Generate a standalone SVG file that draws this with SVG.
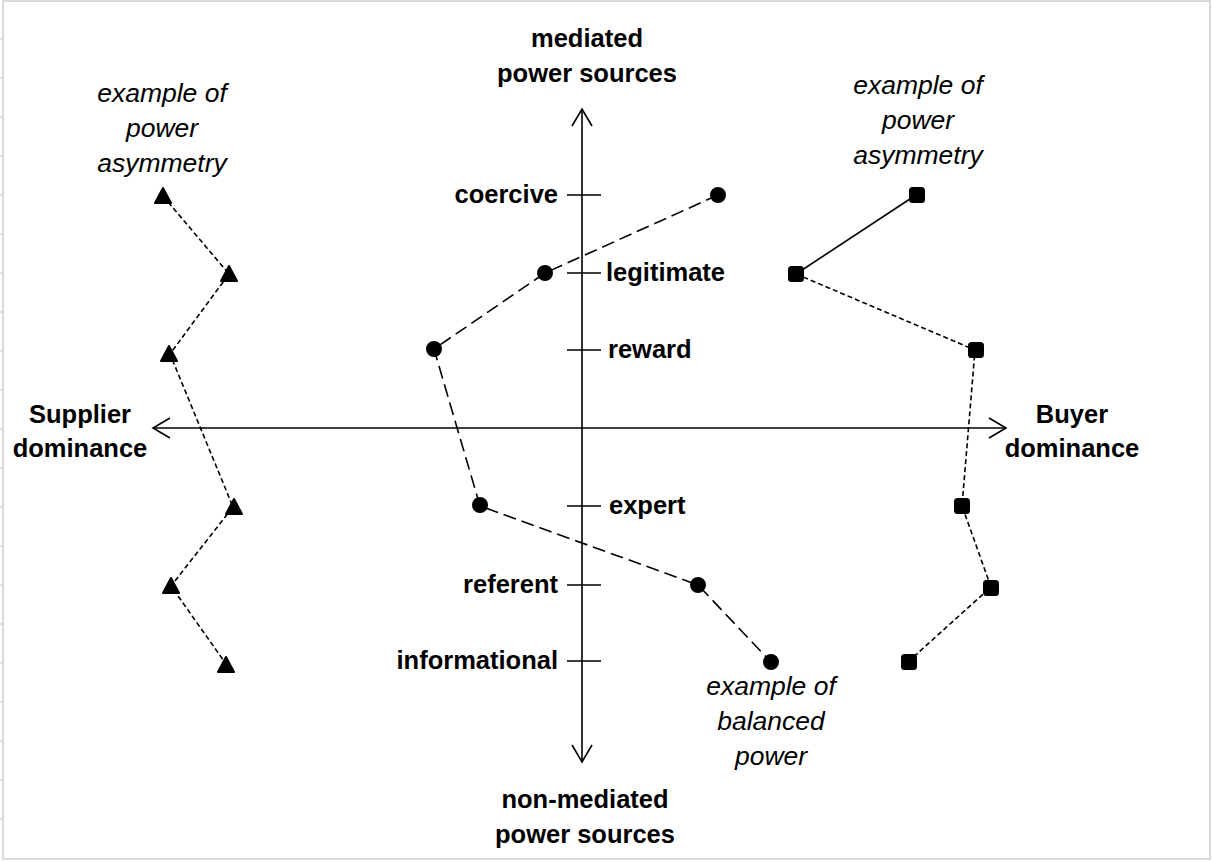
<svg xmlns="http://www.w3.org/2000/svg" width="1212" height="862" viewBox="0 0 1212 862">
<defs>
<style>
.frame{fill:none;stroke:#d9d9d9;stroke-width:2}
.gtick{stroke:#d9d9d9;stroke-width:1.5}
.axis{fill:none;stroke:#000;stroke-width:1.6}
.tick{stroke:#000;stroke-width:1.6}
.lbl{font-family:"Liberation Sans",Arial,sans-serif;font-weight:bold;font-size:25.5px;fill:#000}
.note{font-family:"Liberation Sans",Arial,sans-serif;font-style:italic;font-size:26.5px;fill:#000;text-anchor:middle}
.long{fill:none;stroke:#000;stroke-width:1.6;stroke-dasharray:13 6}
.short{fill:none;stroke:#000;stroke-width:1.6;stroke-dasharray:5 3}
.solid{fill:none;stroke:#000;stroke-width:1.6}
.mk{fill:#000;stroke:#000;stroke-width:2;stroke-linejoin:round}
</style>
<circle id="dot" r="7"/>
<rect id="sq" x="-7" y="-7" width="14" height="14" rx="2.5"/>
<path id="tri" d="M0,-8 L8,7 L-8,7 Z"/>
</defs>
<rect width="1212" height="862" fill="#fff"/>
<g id="frame">
<rect class="frame" x="3" y="1" width="1207" height="858"/>
<path class="gtick" d="M0,39h3M0,78h3M0,117h3M0,156h3M0,195h3M0,234h3M0,273h3M0,312h3M0,351h3M0,390h3M0,429h3M0,468h3M0,507h3M0,546h3M0,585h3M0,624h3M0,663h3M0,702h3M0,741h3M0,780h3M0,819h3"/>
</g>
<g id="axes">
<line class="axis" x1="582" y1="109" x2="582" y2="762"/>
<polyline class="axis" points="572,126 582,109 592,126"/>
<polyline class="axis" points="572,745 582,762 592,745"/>
<line class="axis" x1="153" y1="428" x2="1006" y2="428"/>
<polyline class="axis" points="170,418 153,428 170,438"/>
<polyline class="axis" points="989,418 1006,428 989,438"/>
<path class="tick" d="M567,195H601M567,273H601M567,350H601M567,506H601M567,585H601M567,661H601"/>
</g>
<g id="connectors">
<polyline class="long" points="718,195 545,273 434,349 480,506 698,585 770,661"/>
<line class="solid" x1="916" y1="195" x2="796" y2="274"/>
<polyline class="short" points="796,274 975,350 962,506 991,587 909,661"/>
<polyline class="short" points="163,196 229,274 170,354 233,507 171,586 226,664"/>
</g>
<g id="balanced-series" class="mk">
<use href="#dot" x="718" y="195"/>
<use href="#dot" x="545" y="273"/>
<use href="#dot" x="434" y="349"/>
<use href="#dot" x="480" y="505"/>
<use href="#dot" x="698" y="585"/>
<use href="#dot" x="771" y="662"/>
</g>
<g id="buyer-series" class="mk">
<use href="#sq" x="917" y="195"/>
<use href="#sq" x="796" y="274"/>
<use href="#sq" x="976" y="350"/>
<use href="#sq" x="962" y="506"/>
<use href="#sq" x="991" y="588"/>
<use href="#sq" x="909" y="662"/>
</g>
<g id="supplier-series" class="mk">
<use href="#tri" x="163" y="196"/>
<use href="#tri" x="229" y="274"/>
<use href="#tri" x="169" y="354"/>
<use href="#tri" x="234" y="507"/>
<use href="#tri" x="171" y="586"/>
<use href="#tri" x="226" y="665"/>
</g>
<g id="level-labels" class="lbl">
<text x="558" y="203" text-anchor="end">coercive</text>
<text x="606" y="281">legitimate</text>
<text x="608" y="358">reward</text>
<text x="609" y="514">expert</text>
<text x="558" y="593" text-anchor="end">referent</text>
<text x="558" y="669" text-anchor="end">informational</text>
</g>
<g id="axis-labels" class="lbl" text-anchor="middle">
<text x="587" y="47">mediated</text>
<text x="587" y="82">power sources</text>
<text x="585" y="808">non-mediated</text>
<text x="585" y="843">power sources</text>
<text x="80" y="423">Supplier</text>
<text x="80" y="457">dominance</text>
<text x="1072" y="423">Buyer</text>
<text x="1072" y="457">dominance</text>
</g>
<g id="notes">
<text class="note" x="162" y="102">example of</text>
<text class="note" x="162" y="137">power</text>
<text class="note" x="162" y="172">asymmetry</text>
<text class="note" x="918" y="94">example of</text>
<text class="note" x="918" y="129">power</text>
<text class="note" x="918" y="164">asymmetry</text>
<text class="note" x="771" y="695">example of</text>
<text class="note" x="771" y="730">balanced</text>
<text class="note" x="771" y="765">power</text>
</g>
</svg>
